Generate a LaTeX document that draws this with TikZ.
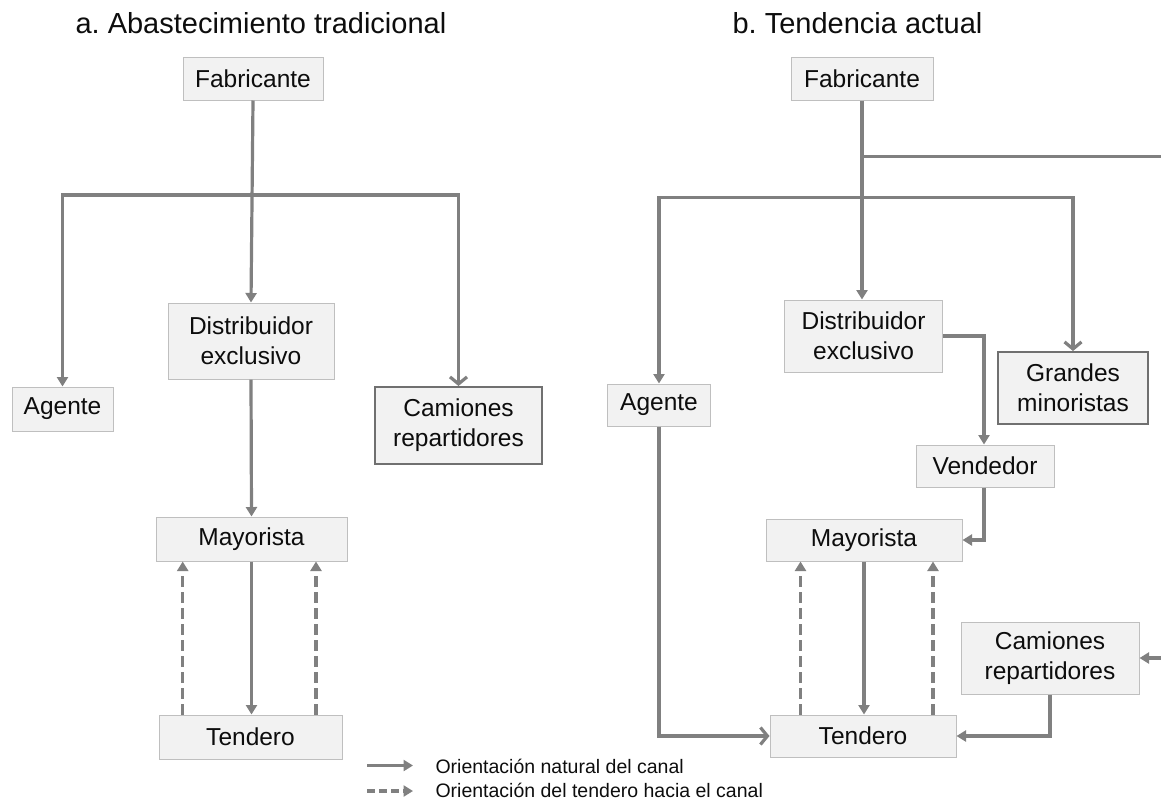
\documentclass[tikz,border=0pt]{standalone}
\usepackage{fontspec}
\setmainfont{Liberation Sans}
\usetikzlibrary{arrows.meta,calc}
\definecolor{linegray}{RGB}{128,128,128}
\definecolor{boxfill}{RGB}{242,242,242}
\definecolor{boxline}{RGB}{191,191,191}
\definecolor{boxdark}{RGB}{112,112,112}
\definecolor{inkblack}{RGB}{13,13,13}
\frenchspacing

\begin{document}
\begin{tikzpicture}[x=1pt,y=-1pt,
  box/.style={draw=boxline, line width=1pt, fill=boxfill, inner sep=0pt,
    align=center, text=inkblack, font=\fontsize{24.5}{30}\selectfont},
  boxstrong/.style={box, draw=boxdark, line width=2pt},
  flow/.style={draw=linegray, line width=3.2pt, -{Triangle[length=9.5pt,width=11pt]}},
  flowopen/.style={draw=linegray, line width=3.2pt, -{Straight Barb[length=7pt,width=17pt]}},
  back/.style={flow, dash pattern=on 11pt off 5pt},
  plain/.style={draw=linegray, line width=3.2pt},
  title/.style={anchor=base west, text=inkblack, font=\fontsize{29}{34}\selectfont},
  legend/.style={anchor=base west, text=inkblack, font=\fontsize{19.5}{23}\selectfont},
]
\clip (0,0) rectangle (1161,801);

% ---------- a. traditional supply ----------
\node[title] (titleA) at (72,33) {a. Abastecimiento tradicional};

\node[box, minimum width=140pt, minimum height=43pt] (fabL) at (253,78.5) {Fabricante};
\node[box, minimum width=166pt, minimum height=76pt] (distL) at (251,341) {Distribuidor\\exclusivo};
\node[box, minimum width=101pt, minimum height=44pt] (agL) at (62.5,409) {Agente};
\node[boxstrong, minimum width=167pt, minimum height=77pt] (camL) at (458.5,425.5) {Camiones\\repartidores};
\node[box, minimum width=191pt, minimum height=44pt] (mayL) at (251.5,539) {Mayorista};
\node[box, minimum width=183pt, minimum height=44pt] (tenL) at (250.5,737) {Tendero};

\coordinate (jL) at (252.4,195);
\draw[flow] (fabL.south) -- (distL.north);
\draw[flow] (jL) -| (agL.north);
\draw[flowopen] (jL) -| (camL.north);
\draw[flow] (distL.south) -- (mayL.north);
\draw[flow] (mayL.south) -- (mayL.south |- tenL.north);
\draw[back] ([xshift=-67.8pt]tenL.north) -- ([xshift=-67.8pt]tenL.north |- mayL.south);
\draw[back] ([xshift=65.5pt]tenL.north) -- ([xshift=65.5pt]tenL.north |- mayL.south);

% ---------- b. current trend ----------
\node[title] (titleB) at (729,33) {b. Tendencia actual};

\node[box, minimum width=142pt, minimum height=43pt] (fabR) at (862,78.5) {Fabricante};
\node[box, minimum width=158pt, minimum height=72pt] (distR) at (863.5,336) {Distribuidor\\exclusivo};
\node[box, minimum width=103.5pt, minimum height=42pt] (agR) at (659,405) {Agente};
\node[boxstrong, minimum width=150pt, minimum height=72pt] (gmR) at (1073,388) {Grandes\\minoristas};
\node[box, minimum width=138pt, minimum height=42pt] (venR) at (985,466) {Vendedor};
\node[box, minimum width=196pt, minimum height=42pt] (mayR) at (864,540) {Mayorista};
\node[box, minimum width=178pt, minimum height=72pt] (camR) at (1050,658) {Camiones\\repartidores};
\node[box, minimum width=186pt, minimum height=42pt] (tenR) at (863,736) {Tendero};

\coordinate (jR1) at (862,156.7);
\coordinate (jR2) at (862,197.7);
\coordinate (edgeTop) at (1185,156.7);
\coordinate (edgeBot) at (1185,658);

\draw[flow] (fabR.south) -- (fabR.south |- distR.north);
\draw[flow] (jR1) -- (edgeTop) -- (edgeBot) -- (camR.east);
\draw[flow] (jR2) -| (agR.north);
\draw[flowopen] (jR2) -| (gmR.north);
\draw[flow] (distR.east) -| ([xshift=-1pt]venR.north);
\draw[flow] ([xshift=-1pt]venR.south) |- (mayR.east);
\draw[flowopen] (agR.south) |- (tenR.west);
\draw[flow] (camR.south) |- (tenR.east);
\draw[flow] (mayR.south) -- (mayR.south |- tenR.north);
\draw[back] ([xshift=-62.5pt]tenR.north) -- ([xshift=-62.5pt]tenR.north |- mayR.south);
\draw[back] ([xshift=70pt]tenR.north) -- ([xshift=70pt]tenR.north |- mayR.south);

% ---------- legend ----------
\coordinate (lgA1) at (367,765.5);
\coordinate (lgA2) at (413,765.5);
\coordinate (lgB1) at (367,791);
\coordinate (lgB2) at (413,791);
\draw[flow] (lgA1) -- (lgA2);
\draw[back, dash pattern=on 8pt off 4pt] (lgB1) -- (lgB2);
\node[legend] (lgTxtA) at (432,773) {Orientación natural del canal};
\node[legend] (lgTxtB) at (432,797) {Orientación del tendero hacia el canal};
\end{tikzpicture}
\end{document}
